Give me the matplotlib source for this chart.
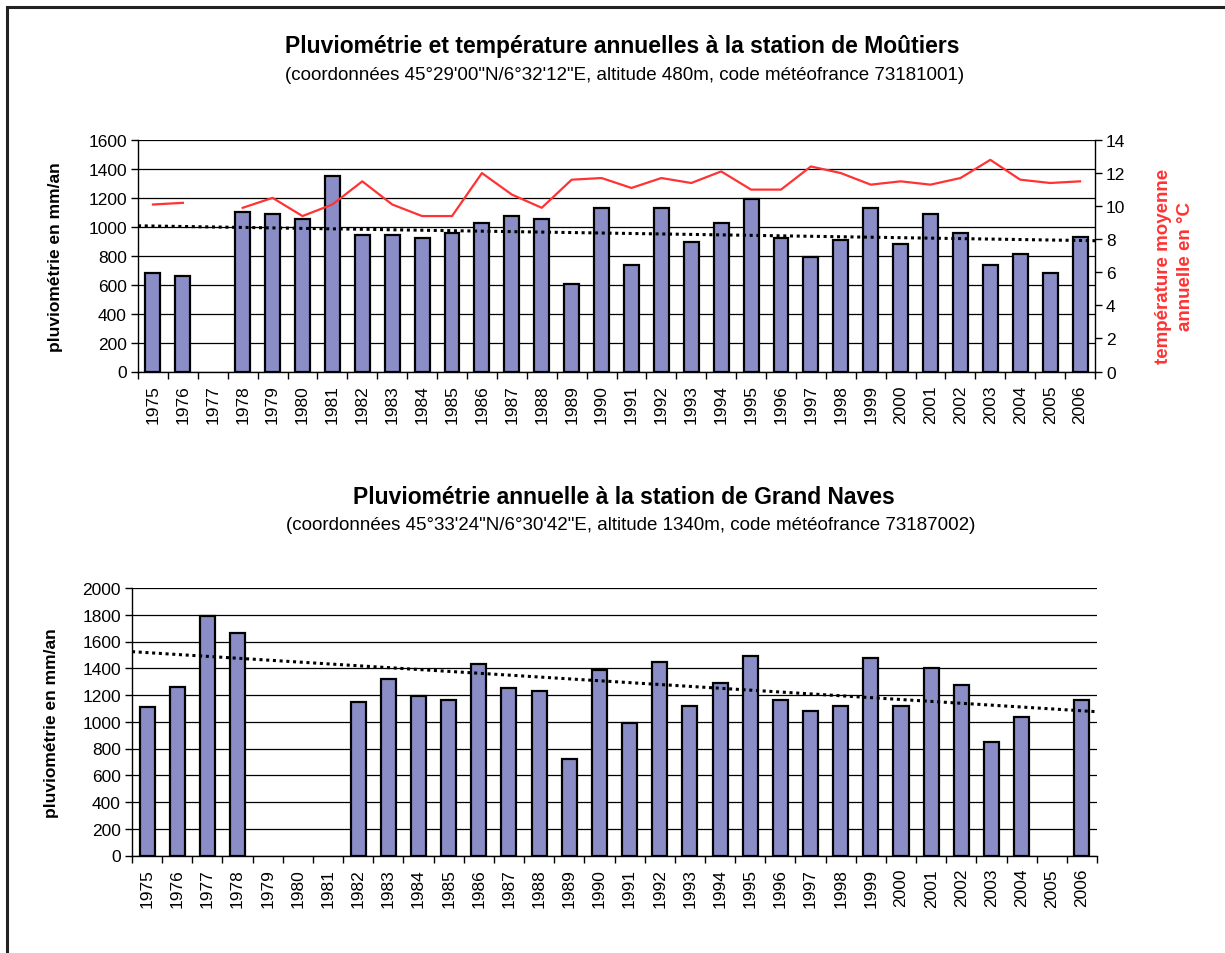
import numpy as np
import matplotlib
matplotlib.use("Agg")
import matplotlib.pyplot as plt
from matplotlib.patches import Rectangle

plt.rcParams['font.family'] = ['Liberation Sans', 'DejaVu Sans']

years = list(range(1975, 2007))
year_labels = [str(y) for y in years]

# Moûtiers annual rainfall (mm/an), None = missing
moutiers_rain = [682, 657, None, 1104, 1090, 1051, 1353, 945, 945, 920, 959, 1024,
                 1077, 1051, 604, 1130, 735, 1130, 892, 1024, 1194, 920, 788, 906,
                 1130, 881, 1090, 959, 735, 814, 682, 931]
# Moûtiers mean annual temperature (°C)
moutiers_temp = [10.1, 10.2, None, 9.9, 10.5, 9.4, 10.1, 11.5, 10.1, 9.4, 9.4, 12.0,
                 10.7, 9.9, 11.6, 11.7, 11.1, 11.7, 11.4, 12.1, 11.0, 11.0, 12.4, 12.0,
                 11.3, 11.5, 11.3, 11.7, 12.8, 11.6, 11.4, 11.5]
# Grand Naves annual rainfall (mm/an)
naves_rain = [1108, 1262, 1787, 1660, None, None, None, 1150, 1319, 1190, 1163, 1431,
              1250, 1232, 722, 1389, 991, 1446, 1120, 1290, 1489, 1163, 1078, 1120,
              1474, 1120, 1404, 1275, 851, 1036, None, 1163]

# Linear trend lines as drawn in the chart (value at left edge, value at right edge)
moutiers_trend = [1007, 904]
naves_trend = [1524, 1075]

BAR_COLOR = '#8B8EC6'
RED = '#FF3333'
FS = 12.5

def to_arr(v):
    return np.array([np.nan if x is None else x for x in v], dtype=float)

def style_bar_axis(ax, vals, trend_vals, ymax, ystep):
    y = to_arr(vals)
    x = np.arange(len(y))
    m = ~np.isnan(y)
    ax.set_axisbelow(True)
    ax.yaxis.grid(True, color='black', lw=0.9)
    ax.bar(x[m], y[m], width=0.5, color=BAR_COLOR, edgecolor='black',
           linewidth=1.6, zorder=3)
    ax.set_xlim(-0.5, len(y) - 0.5)
    ax.set_ylim(0, ymax)
    ax.set_yticks(np.arange(0, ymax + 1, ystep))
    ax.set_xticks(x)
    ax.set_xticklabels(year_labels, rotation=90, fontsize=FS)
    ax.set_xticks(np.arange(-0.5, len(y)), minor=True)
    ax.tick_params(axis='x', which='major', length=0, pad=9)
    ax.tick_params(axis='x', which='minor', length=5, width=1, direction='out')
    ax.tick_params(axis='y', labelsize=FS, length=5, width=1, direction='out', pad=3)
    for s in ['top', 'right']:
        ax.spines[s].set_visible(False)
    ax.spines['left'].set_linewidth(1)
    ax.spines['bottom'].set_linewidth(1)
    ax.set_ylabel('pluviométrie en mm/an', fontsize=FS, fontweight='bold')
    ax.plot([-0.5, len(y) - 0.5], trend_vals, color='black',
            linestyle=(0, (1, 1.2)), lw=2.2, zorder=4)

fig = plt.figure(figsize=(12.25, 9.54), dpi=100)

# outer frame
fig.patches.append(Rectangle((7 / 1225, -0.05), 1.2, 1 - 8 / 954 + 0.05,
                             transform=fig.transFigure, fill=False,
                             edgecolor='#222222', lw=2.2))

# --- Top chart
ax1 = fig.add_axes([138 / 1225, 1 - 372.5 / 954, (1095 - 138) / 1225, (372.5 - 141) / 954])
style_bar_axis(ax1, moutiers_rain, moutiers_trend, 1600, 200)
ax1.yaxis.set_label_coords(-0.078, 0.5)

ax2 = ax1.twinx()
ax2.plot(np.arange(len(years)), to_arr(moutiers_temp), color=RED, lw=1.6, zorder=5)
ax2.set_ylim(0, 14)
ax2.set_yticks(np.arange(0, 15, 2))
ax2.tick_params(axis='y', labelsize=FS, length=5, width=1, direction='out', pad=3)
for s in ['top', 'left', 'bottom']:
    ax2.spines[s].set_visible(False)
ax2.spines['right'].set_linewidth(1)
ax2.set_ylabel('température moyenne\nannuelle en °C', fontsize=13.5, fontweight='bold',
               color=RED, rotation=90, linespacing=1.4)
ax2.yaxis.set_label_coords(1.063, 0.46)

fig.text(0.508, 1 - 47 / 954, 'Pluviométrie et température annuelles à la station de Moûtiers',
         ha='center', va='center', fontsize=16.5, fontweight='bold')
fig.text(0.510, 1 - 76 / 954,
         '(coordonnées 45°29\'00"N/6°32\'12"E, altitude 480m, code météofrance 73181001)',
         ha='center', va='center', fontsize=13.5)

# --- Bottom chart
ax3 = fig.add_axes([132 / 1225, 1 - 856.5 / 954, (1097 - 132) / 1225, (856.5 - 589) / 954])
style_bar_axis(ax3, naves_rain, naves_trend, 2000, 200)
ax3.yaxis.set_label_coords(-0.076, 0.5)

fig.text(0.509, 1 - 497 / 954, 'Pluviométrie annuelle à la station de Grand Naves',
         ha='center', va='center', fontsize=16.5, fontweight='bold')
fig.text(0.515, 1 - 525 / 954,
         '(coordonnées 45°33\'24"N/6°30\'42"E, altitude 1340m, code météofrance 73187002)',
         ha='center', va='center', fontsize=13.5)

fig.savefig('out.png', dpi=100)
